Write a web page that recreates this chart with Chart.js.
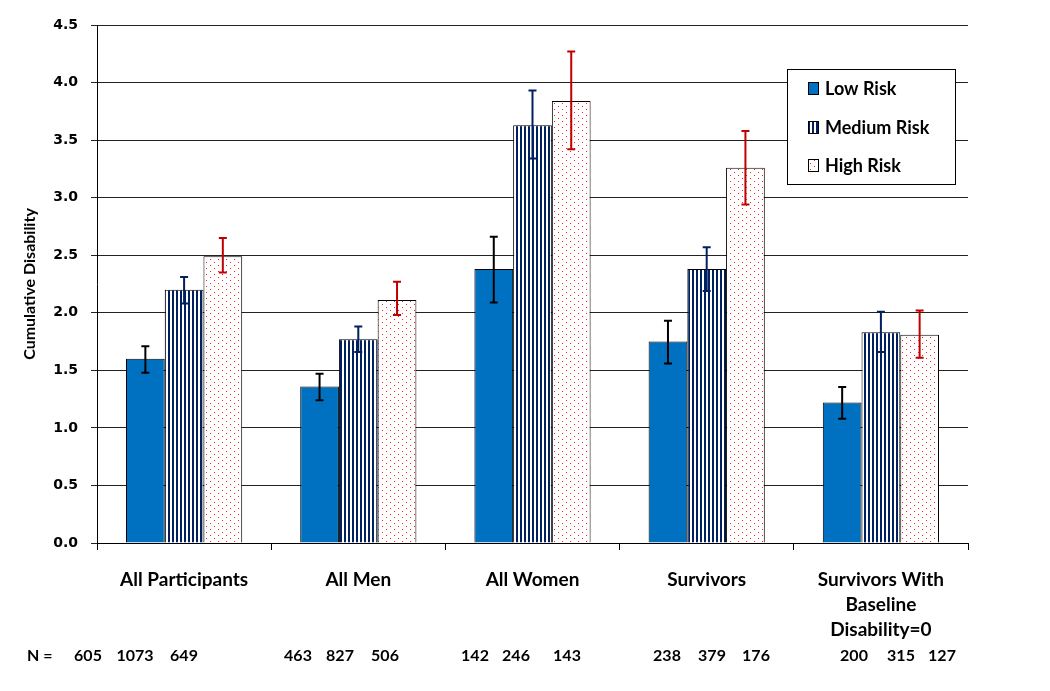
<!DOCTYPE html>
<html>
<head>
<meta charset="utf-8">
<script src="https://cdn.jsdelivr.net/npm/chart.js@4.4.1/dist/chart.umd.min.js"></script>
<style>
  html, body { margin: 0; padding: 0; background: #fff; }
  .chart-container { position: relative; width: 1050px; height: 691px; }
</style>
</head>
<body>
<div class="chart-container">
  <canvas id="graficaRiesgo"></canvas>
</div>
<script>
// Datos
const categorias = ['All Participants', 'All Men', 'All Women', 'Survivors', ['Survivors With', 'Baseline', 'Disability=0']];
const series = ['Low Risk', 'Medium Risk', 'High Risk'];

const bajo = [1.60, 1.36, 2.38, 1.75, 1.22];
const bajoSup = [1.71, 1.47, 2.66, 1.93, 1.355];
const bajoInf = [1.48, 1.24, 2.09, 1.56, 1.08];

const medio = [2.20, 1.77, 3.63, 2.38, 1.83];
const medioSup = [2.31, 1.88, 3.93, 2.57, 2.01];
const medioInf = [2.08, 1.66, 3.34, 2.19, 1.66];

const alto = [2.49, 2.11, 3.84, 3.26, 1.81];
const altoSup = [2.65, 2.27, 4.27, 3.58, 2.02];
const altoInf = [2.35, 1.98, 3.42, 2.94, 1.61];

const nBajo = [605, 463, 142, 238, 200];
const nMedio = [1073, 827, 246, 379, 315];
const nAlto = [649, 506, 143, 176, 127];

// posiciones del texto N (solo texto)
const nPosX = [
    [88, 135, 184],
    [298, 340, 385],
    [475, 516, 567],
    [667, 712, 756],
    [854, 901, 942]
];

const ctx = document.getElementById('graficaRiesgo').getContext('2d');

function crearRayas() {
    const c = document.createElement('canvas');
    c.width = 4; c.height = 4;
    const g = c.getContext('2d');
    g.fillStyle = '#ffffff';
    g.fillRect(0, 0, 4, 4);
    g.fillStyle = '#002060';
    g.fillRect(0, 0, 2, 4);
    return ctx.createPattern(c, 'repeat');
}

function crearPuntos() {
    const c = document.createElement('canvas');
    c.width = 8; c.height = 6;
    const g = c.getContext('2d');
    g.fillStyle = '#ffffff';
    g.fillRect(0, 0, 8, 6);
    g.fillStyle = '#ff2020';
    g.fillRect(2, 1, 1, 1);
    g.fillRect(6, 4, 1, 1);
    return ctx.createPattern(c, 'repeat');
}

const colorBajo = '#0070C0';
const rayas = crearRayas();
const puntos = crearPuntos();
const colorError = ['#000000', '#002060', '#C00000'];
const limites = [[bajoSup, bajoInf], [medioSup, medioInf], [altoSup, altoInf]];
const fuenteTexto = 'Lato, "Open Sans", sans-serif';

const barrasError = {
    id: 'barrasError',
    afterDatasetsDraw(chart) {
        const c = chart.ctx;
        const y = chart.scales.y;
        chart.data.datasets.forEach((ds, i) => {
            const meta = chart.getDatasetMeta(i);
            meta.data.forEach((bar, j) => {
                const yHi = y.getPixelForValue(limites[i][0][j]);
                const yLo = y.getPixelForValue(limites[i][1][j]);
                c.save();
                c.strokeStyle = colorError[i];
                c.lineWidth = 2;
                c.beginPath();
                c.moveTo(bar.x, yHi); c.lineTo(bar.x, yLo);
                c.moveTo(bar.x - 4, yHi); c.lineTo(bar.x + 4, yHi);
                c.moveTo(bar.x - 4, yLo); c.lineTo(bar.x + 4, yLo);
                c.stroke();
                c.restore();
            });
        });
    }
};

const leyenda = {
    id: 'leyendaCaja',
    afterDraw(chart) {
        const c = chart.ctx;
        const x0 = 787, y0 = 69, w = 168, h = 115;
        c.save();
        c.fillStyle = '#ffffff';
        c.fillRect(x0, y0, w, h);
        c.strokeStyle = '#000000';
        c.lineWidth = 1;
        c.strokeRect(x0 + 0.5, y0 + 0.5, w, h);
        const rellenos = [colorBajo, rayas, puntos];
        const filas = [88, 127, 165];
        c.font = 'bold 18px ' + fuenteTexto;
        c.textBaseline = 'middle';
        series.forEach((s, i) => {
            c.fillStyle = rellenos[i];
            c.fillRect(808, filas[i] - 6, 10, 12);
            c.strokeRect(808.5, filas[i] - 5.5, 10, 12);
            c.fillStyle = '#000000';
            c.fillText(s, 825, filas[i] + 1);
        });
        c.restore();
    }
};

const filaN = {
    id: 'filaN',
    afterDraw(chart) {
        const c = chart.ctx;
        c.save();
        c.font = 'bold 16px ' + fuenteTexto;
        c.fillStyle = '#000000';
        c.textBaseline = 'middle';
        c.textAlign = 'left';
        c.fillText('N =', 27, 656);
        c.textAlign = 'center';
        categorias.forEach((cat, j) => {
            c.fillText(String(nBajo[j]), nPosX[j][0], 656);
            c.fillText(String(nMedio[j]), nPosX[j][1], 656);
            c.fillText(String(nAlto[j]), nPosX[j][2], 656);
        });
        c.restore();
    }
};

new Chart(ctx, {
    type: 'bar',
    data: {
        labels: categorias,
        datasets: [
            { label: series[0], data: bajo, backgroundColor: colorBajo, borderColor: '#000000', borderWidth: 1 },
            { label: series[1], data: medio, backgroundColor: rayas, borderColor: '#000000', borderWidth: 1 },
            { label: series[2], data: alto, backgroundColor: puntos, borderColor: '#000000', borderWidth: 1 }
        ]
    },
    options: {
        responsive: true,
        maintainAspectRatio: false,
        animation: false,
        categoryPercentage: 0.667,
        barPercentage: 1.0,
        layout: {
            padding: { top: 25, right: 82, left: 20, bottom: 0 }
        },
        plugins: {
            legend: { display: false },
            tooltip: { enabled: false }
        },
        scales: {
            y: {
                min: 0,
                max: 4.5,
                ticks: {
                    stepSize: 0.5,
                    color: '#000000',
                    padding: 13,
                    font: { family: '"DejaVu Sans", Verdana, sans-serif', size: 14, weight: 'bold' },
                    callback: v => v.toFixed(1)
                },
                grid: {
                    color: '#222222',
                    lineWidth: 1,
                    tickLength: 6
                },
                border: { display: true, color: '#000000', width: 1 },
                title: {
                    display: true,
                    text: 'Cumulative Disability',
                    color: '#000000',
                    font: { family: fuenteTexto, size: 16, weight: 'bold' },
                    padding: { top: 0, bottom: 4 }
                },
                afterFit(scale) { scale.width = 77; }
            },
            x: {
                ticks: {
                    color: '#000000',
                    padding: 17,
                    maxRotation: 0,
                    font: { family: fuenteTexto, size: 19, weight: 'bold', lineHeight: 1.33 }
                },
                grid: {
                    offset: true,
                    drawOnChartArea: false,
                    color: '#000000',
                    tickLength: 7
                },
                border: { display: true, color: '#000000', width: 1 },
                afterFit(scale) { scale.height = 148; }
            }
        }
    },
    plugins: [barrasError, leyenda, filaN]
});
</script>
</body>
</html>
